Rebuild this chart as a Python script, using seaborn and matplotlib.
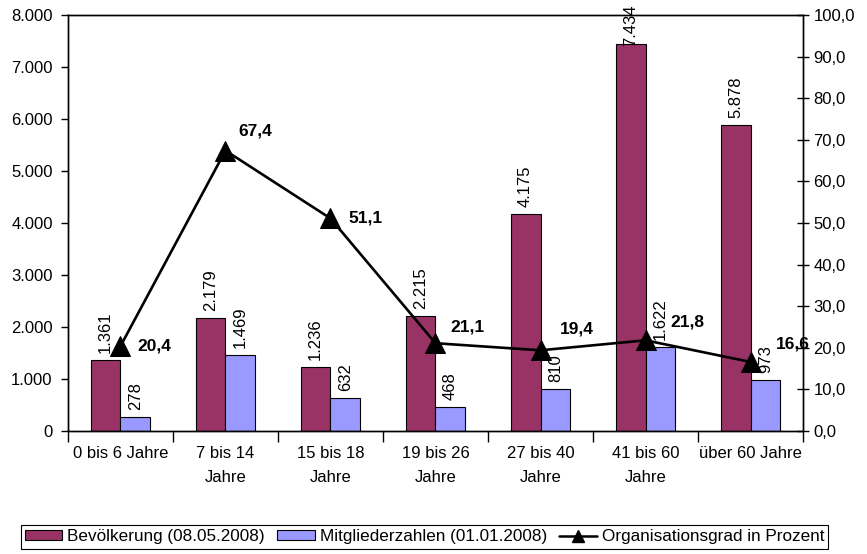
import numpy as np
import pandas as pd
import matplotlib
matplotlib.use('Agg')
import matplotlib.pyplot as plt
import seaborn as sns
from matplotlib.patches import Patch
from matplotlib.lines import Line2D
from matplotlib.ticker import FuncFormatter, FixedLocator

# data
categories = ['0 bis 6 Jahre', '7 bis 14\nJahre', '15 bis 18\nJahre', '19 bis 26\nJahre',
              '27 bis 40\nJahre', '41 bis 60\nJahre', 'über 60 Jahre']
bevoelkerung = [1361, 2179, 1236, 2215, 4175, 7434, 5878]
mitglieder = [278, 1469, 632, 468, 810, 1622, 973]
orggrad = [20.4, 67.4, 51.1, 21.1, 19.4, 21.8, 16.6]

series_names = ['Bevölkerung (08.05.2008)', 'Mitgliederzahlen (01.01.2008)']
line_name = 'Organisationsgrad in Prozent'
bar_colors = ['#993366', '#9999FF']

# label offsets for the percentage labels (points)
label_offsets = [(12, 0), (9, 14), (13, 0), (11, 12), (14, 15), (18, 13), (18, 13)]

sns.set_theme(style='white')
plt.rcParams['font.family'] = ['Liberation Sans', 'DejaVu Sans']
plt.rcParams['text.color'] = 'black'
plt.rcParams['xtick.color'] = 'black'
plt.rcParams['ytick.color'] = 'black'
plt.rcParams['axes.labelcolor'] = 'black'

df = pd.DataFrame({
    'Altersgruppe': categories * 2,
    'Wert': bevoelkerung + mitglieder,
    'Reihe': [series_names[0]] * len(categories) + [series_names[1]] * len(categories),
})

def de_thousands(v, pos=None):
    return f'{int(round(v)):,}'.replace(',', '.')

def de_decimal(v, pos=None):
    return f'{v:.1f}'.replace('.', ',')

fs = 12

fig = plt.figure(figsize=(8.67, 5.54), dpi=100)
ax = fig.add_axes([0.0784, 0.222, 0.8478, 0.751])

sns.barplot(data=df, x='Altersgruppe', y='Wert', hue='Reihe', palette=bar_colors,
            width=0.57, gap=0, edgecolor='black', linewidth=0.8, saturation=1,
            ax=ax, legend=False)

bar_texts = []
for cont in ax.containers:
    vals = [b.get_height() for b in cont]
    bar_texts += ax.bar_label(cont, labels=[de_thousands(v) for v in vals], rotation=90,
                              padding=5, fontsize=fs, color='black', clip_on=False)

ax.set_ylim(0, 8000)
ax.set_xlim(-0.5, len(categories) - 0.5)
ax.yaxis.set_major_formatter(FuncFormatter(de_thousands))
ax.set_xlabel('')
ax.set_ylabel('')
ax.tick_params(axis='y', direction='out', length=5, width=1, labelsize=fs, pad=6,
               left=True, color='black', labelcolor='black')
ax.tick_params(axis='x', which='major', length=0, labelsize=fs, pad=11, labelcolor='black')
ax.xaxis.set_minor_locator(FixedLocator(np.arange(len(categories) + 1) - 0.5))
ax.tick_params(axis='x', which='minor', direction='out', length=8, width=1,
               bottom=True, color='black')
for lab in ax.get_xticklabels():
    lab.set_linespacing(1.75)

ax2 = ax.twinx()
xpos = np.arange(len(categories))
sns.lineplot(x=xpos, y=orggrad, ax=ax2, color='black', marker='^', markersize=14,
             linewidth=1.9, markeredgecolor='black')
for i, v in enumerate(orggrad):
    ax2.annotate(de_decimal(v), (i, v), xytext=label_offsets[i], textcoords='offset points',
                 fontweight='bold', fontsize=12.5, color='black', ha='left', va='center')
ax2.set_ylim(0, 100)
ax2.set_xlim(-0.5, len(categories) - 0.5)
ax2.yaxis.set_major_locator(FixedLocator(np.arange(0, 101, 10)))
ax2.yaxis.set_major_formatter(FuncFormatter(de_decimal))
ax2.tick_params(axis='y', direction='inout', length=9, width=1, labelsize=fs, pad=3,
                right=True, color='black', labelcolor='black')
ax2.set_ylabel('')

for a in (ax, ax2):
    for s in a.spines.values():
        s.set_color('black')
        s.set_linewidth(1)
        s.set_visible(True)

# push bar labels that would run off the top back inside (like Excel does)
fig.canvas.draw()
renderer = fig.canvas.get_renderer()
top_px = fig.bbox.height - 4
for t in bar_texts:
    bb = t.get_window_extent(renderer)
    if bb.y1 > top_px:
        dx, dy = t.xyann
        t.xyann = (dx, dy - (bb.y1 - top_px) * 72 / fig.dpi)

handles = [Patch(facecolor=bar_colors[0], edgecolor='black', linewidth=0.8),
           Patch(facecolor=bar_colors[1], edgecolor='black', linewidth=0.8),
           Line2D([], [], color='black', marker='^', markersize=9, linewidth=1.8)]
leg = fig.legend(handles, series_names + [line_name], loc='center',
                 bbox_to_anchor=(0.4896, 0.031), ncol=3, frameon=True, fancybox=False,
                 edgecolor='black', framealpha=1, borderpad=0.25, borderaxespad=0,
                 columnspacing=0.7, handlelength=2.2, handleheight=0.55, handletextpad=0.3,
                 labelcolor='black',
                 prop={'family': ['Liberation Sans Narrow', 'Liberation Sans'], 'size': 12.3})
leg.get_frame().set_linewidth(0.8)

fig.savefig('out.png', dpi=100)
